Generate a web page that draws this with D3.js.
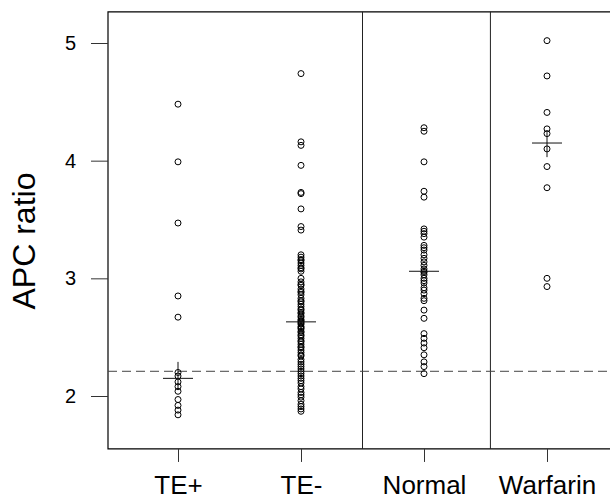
<!DOCTYPE html>
<html>
<head>
<meta charset="utf-8">
<script src="https://d3js.org/d3.v7.min.js"></script>
<style>
  body { margin: 0; background: #fff; }
  svg { display: block; font-family: "Liberation Sans", Arial, sans-serif; }
  .frame { stroke: #000; stroke-width: 1.2px; fill: none; }
  .divider { stroke: #222; stroke-width: 1px; }
  .cutoff { stroke: #444; stroke-width: 1px; stroke-dasharray: 9,5; fill: none; }
  .dot { fill: none; stroke: #000; stroke-width: 1px; }
  .cross { stroke: #111; stroke-width: 1px; }
  .axis path { display: none; }
  .axis line { stroke: #333; stroke-width: 1px; }
</style>
</head>
<body>
<svg width="610" height="499"></svg>
<script>
// groups and values
var categories = ["TE+", "TE-", "Normal", "Warfarin"];

var tePlus = [4.48, 3.99, 3.47, 2.85, 2.67, 2.20, 2.17, 2.12, 2.08, 2.04, 1.97, 1.92, 1.88, 1.84];

var teMinus = [4.74, 4.16, 4.13, 3.96, 3.73, 3.72, 3.59, 3.44, 3.41,
  3.20, 3.18, 3.16, 3.15, 3.13, 3.11, 3.09, 3.08, 3.06, 3.00, 2.97, 2.95, 2.94, 2.91,
  2.89, 2.88, 2.86, 2.83, 2.81, 2.80, 2.78, 2.76, 2.74, 2.73, 2.71, 2.70, 2.68, 2.67,
  2.65, 2.64, 2.63, 2.62, 2.61, 2.59, 2.58, 2.57, 2.55, 2.54, 2.52, 2.51, 2.49, 2.47,
  2.46, 2.44, 2.42, 2.41, 2.39, 2.37, 2.35, 2.34, 2.31, 2.29, 2.27, 2.25, 2.23, 2.21,
  2.19, 2.17, 2.15, 2.13, 2.11, 2.08, 2.06, 2.03, 2.01, 1.99, 1.96, 1.93, 1.91, 1.89, 1.87];

var normal = [4.28, 4.25, 3.99, 3.74, 3.69, 3.42, 3.40, 3.38, 3.35, 3.28, 3.26, 3.24,
  3.20, 3.17, 3.14, 3.11, 3.08, 3.06, 3.05, 3.03, 3.00, 2.98, 2.96, 2.92, 2.90, 2.87,
  2.83, 2.81, 2.73, 2.66, 2.53, 2.49, 2.45, 2.41, 2.35, 2.29, 2.25, 2.19];

var warfarin = [5.02, 4.72, 4.41, 4.27, 4.23, 4.10, 3.95, 3.77, 3.00, 2.93];

var medians = [2.15, 2.63, 3.06, 4.15];
var errLow = [2.05, 2.58, 3.02, 4.03];
var errHigh = [2.29, 2.68, 3.10, 4.24];

var cutoff = 2.21;
var yTicks = [2, 3, 4, 5];
var yExtent = [1.55, 5.265];
var dividerAt = [1.5, 2.54];

var groups = [tePlus, teMinus, normal, warfarin];

var svg = d3.select("svg");

var x = d3.scaleLinear().domain([0, 3]).range([178, 547]);
var y = d3.scaleLinear().domain([2, 5]).range([396, 43]);

var left = 108, right = 610;
var yTop = y(yExtent[1]), yBot = y(yExtent[0]);

// frame: left, top, bottom (right edge is cut off)
svg.append("path")
  .attr("class", "frame")
  .attr("d", "M" + right + "," + yTop + "H" + left + "V" + yBot + "H" + right);

svg.selectAll(".divider")
  .data(dividerAt)
  .enter().append("line")
  .attr("class", "divider")
  .attr("x1", function(d) { return x(d); })
  .attr("x2", function(d) { return x(d); })
  .attr("y1", yTop)
  .attr("y2", yBot);

// cut-off line
svg.append("line")
  .attr("class", "cutoff")
  .attr("x1", left)
  .attr("x2", right)
  .attr("y1", y(cutoff))
  .attr("y2", y(cutoff));

// points
var pts = [];
groups.forEach(function(vals, i) {
  vals.forEach(function(v) { pts.push({g: i, v: v}); });
});

svg.append("g")
  .selectAll("circle")
  .data(pts)
  .enter().append("circle")
  .attr("class", "dot")
  .attr("cx", function(d) { return x(d.g); })
  .attr("cy", function(d) { return y(d.v); })
  .attr("r", 3);

// median crosses
var crosses = svg.append("g");
crosses.selectAll(".h")
  .data(medians)
  .enter().append("line")
  .attr("class", "cross")
  .attr("x1", function(d, i) { return x(i) - 15; })
  .attr("x2", function(d, i) { return x(i) + 15; })
  .attr("y1", function(d) { return y(d); })
  .attr("y2", function(d) { return y(d); });

crosses.selectAll(".v")
  .data(medians)
  .enter().append("line")
  .attr("class", "cross")
  .attr("x1", function(d, i) { return x(i); })
  .attr("x2", function(d, i) { return x(i); })
  .attr("y1", function(d, i) { return y(errLow[i]); })
  .attr("y2", function(d, i) { return y(errHigh[i]); });

// y axis
var yAxis = svg.append("g")
  .attr("class", "axis")
  .attr("transform", "translate(" + left + ",0)")
  .call(d3.axisLeft(y).tickValues(yTicks).tickFormat(d3.format("d")).tickSize(17).tickPadding(15));
yAxis.selectAll("text")
  .style("font-size", "20px")
  .attr("fill", "#000");

// x axis
var xAxis = svg.append("g")
  .attr("class", "axis")
  .attr("transform", "translate(0," + yBot + ")")
  .call(d3.axisBottom(x).tickValues([0, 1, 2, 3]).tickFormat(function(d) { return categories[d]; }).tickSize(13));
xAxis.selectAll("text")
  .attr("y", 45)
  .attr("dy", null)
  .style("font-size", "26px")
  .attr("fill", "#000");

svg.append("text")
  .attr("transform", "translate(35,241) rotate(-90)")
  .attr("text-anchor", "middle")
  .style("font-size", "32px")
  .text("APC ratio");
</script>
</body>
</html>
